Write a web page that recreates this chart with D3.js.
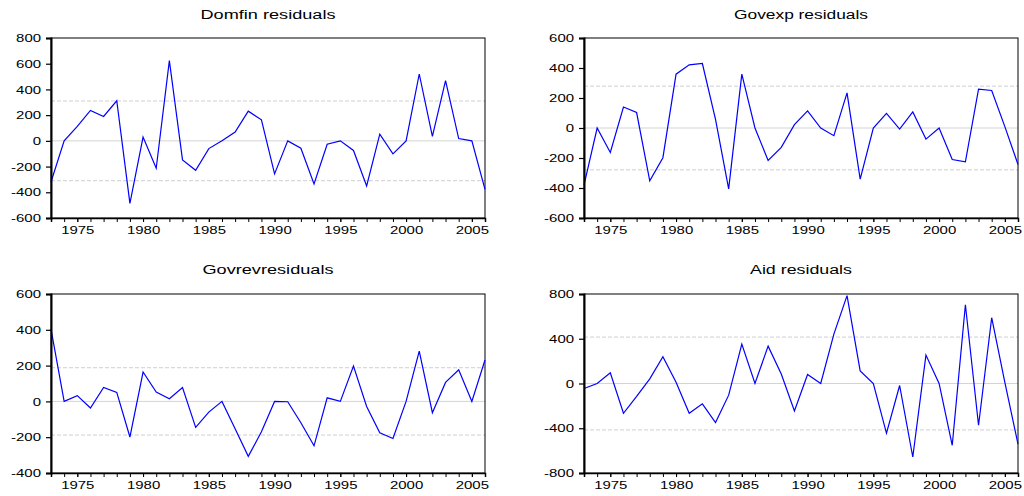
<!DOCTYPE html>
<html><head><meta charset="utf-8">
<script src="https://cdn.jsdelivr.net/npm/d3@7"></script>
<style>
body{margin:0;background:#fff;}
svg{display:block;}
text{font-family:"Liberation Sans",Arial,sans-serif;fill:#000;}
</style></head>
<body><svg id="c" width="1024" height="496"></svg>
<script>
const years = [1973,1974,1975,1976,1977,1978,1979,1980,1981,1982,1983,1984,1985,1986,1987,1988,1989,1990,1991,1992,1993,1994,1995,1996,1997,1998,1999,2000,2001,2002,2003,2004,2005,2006];
const xTickLabels = [1975,1980,1985,1990,1995,2000,2005];

const domfin = [-320,0,112,237,190,312,-486,29,-213,624,-148,-229,-60,0,68,231,164,-257,0,-57,-335,-26,0,-75,-351,52,-101,0,520,34,468,18,0,-377];
const govexp = [-381,0,-163,140,103,-352,-198,359,421,430,58,-406,359,0,-216,-129,22,114,0,-51,234,-341,0,98,-7,107,-74,0,-210,-225,259,250,9,-243];
const govrev = [404,0,32,-37,78,50,-199,164,52,15,78,-145,-60,0,-153,-307,-170,0,-2,-119,-248,20,0,197,-28,-175,-207,0,281,-63,106,177,0,231];
const aid = [-45,0,96,-266,-116,42,239,12,-266,-182,-349,-104,352,0,334,84,-245,81,0,442,785,113,0,-445,-18,-657,254,0,-552,704,-373,588,10,-543];

const titles = ["Domfin residuals","Govexp residuals","Govrevresiduals","Aid residuals"];
const yTicks1 = [-600,-400,-200,0,200,400,600,800];
const yTicks2 = [-600,-400,-200,0,200,400,600];
const yTicks3 = [-400,-200,0,200,400,600];
const yTicks4 = [-800,-400,0,400,800];
const yDomains = [[-600,800],[-600,600],[-400,600],[-800,800]];
const bands = [310,279,188,415];

const panels = [
  {data:domfin, title:titles[0], ticks:yTicks1, dom:yDomains[0], band:bands[0], x0:51, x1:485, y0:38, y1:218, ty:19, tw:135},
  {data:govexp, title:titles[1], ticks:yTicks2, dom:yDomains[1], band:bands[1], x0:584, x1:1018, y0:38, y1:218, ty:19, tw:134},
  {data:govrev, title:titles[2], ticks:yTicks3, dom:yDomains[2], band:bands[2], x0:51, x1:485, y0:294, y1:473, ty:274, tw:131},
  {data:aid, title:titles[3], ticks:yTicks4, dom:yDomains[3], band:bands[3], x0:584, x1:1018, y0:294, y1:473, ty:274, tw:102}
];

const svg = d3.select("#c");
function stretch(sel, k){
  sel.each(function(){ const l=this.getComputedTextLength(); d3.select(this).attr("textLength", l*k).attr("lengthAdjust","spacingAndGlyphs"); });
}
const fmt = d => String(d);

panels.forEach(p=>{
  const x = d3.scaleLinear().domain([1973,2006]).range([p.x0,p.x1]);
  const y = d3.scaleLinear().domain(p.dom).range([p.y1,p.y0]);
  const g = svg.append("g");

  g.append("line").attr("x1",p.x0).attr("x2",p.x1).attr("y1",y(0)).attr("y2",y(0))
    .attr("stroke","#d4d4d4").attr("stroke-width",1);
  [p.band,-p.band].forEach(v=>{
    g.append("line").attr("x1",p.x0).attr("x2",p.x1).attr("y1",y(v)).attr("y2",y(v))
      .attr("stroke","#cfcfcf").attr("stroke-width",1).attr("stroke-dasharray","4,2");
  });

  g.append("rect").attr("x",p.x0).attr("y",p.y0).attr("width",p.x1-p.x0).attr("height",p.y1-p.y0)
    .attr("fill","none").attr("stroke","#000").attr("stroke-width",1);

  const line = d3.line().x((d,i)=>x(years[i])).y(d=>y(d));
  g.append("path").datum(p.data).attr("d",line).attr("fill","none")
    .attr("stroke","#0000ff").attr("stroke-width",1.2).attr("stroke-linejoin","miter");

  const ya = g.append("g").attr("transform",`translate(${p.x0},0)`)
    .call(d3.axisLeft(y).tickValues(p.ticks).tickSize(5).tickPadding(5).tickFormat(fmt));
  ya.select(".domain").attr("stroke","#000").attr("stroke-width",2);
  ya.selectAll(".tick line").attr("stroke","#000").attr("stroke-width",1.2);
  ya.selectAll("text").attr("font-family","Liberation Sans, Arial, sans-serif").attr("font-size",11.5).attr("fill","#000");
  stretch(ya.selectAll("text"),1.3);

  const xa = g.append("g").attr("transform",`translate(0,${p.y1})`)
    .call(d3.axisBottom(x).tickValues(years).tickSize(4).tickFormat(""));
  xa.select(".domain").attr("stroke","#000").attr("stroke-width",1.5);
  xa.selectAll(".tick line").attr("stroke","#000").attr("stroke-width",1);
  const xl = g.append("g").attr("transform",`translate(0,${p.y1})`)
    .call(d3.axisBottom(x).tickValues(xTickLabels).tickSize(4).tickPadding(4).tickFormat(fmt));
  xl.select(".domain").remove();
  xl.selectAll(".tick line").attr("stroke","#000");
  xl.selectAll("text").attr("font-family","Liberation Sans, Arial, sans-serif").attr("font-size",11.5).attr("fill","#000");
  stretch(xl.selectAll("text"),1.3);

  g.append("text").attr("x",(p.x0+p.x1)/2).attr("y",p.ty).attr("text-anchor","middle")
    .attr("font-size",12.5).text(p.title)
    .attr("textLength",p.tw).attr("lengthAdjust","spacingAndGlyphs");
});
</script></body></html>
